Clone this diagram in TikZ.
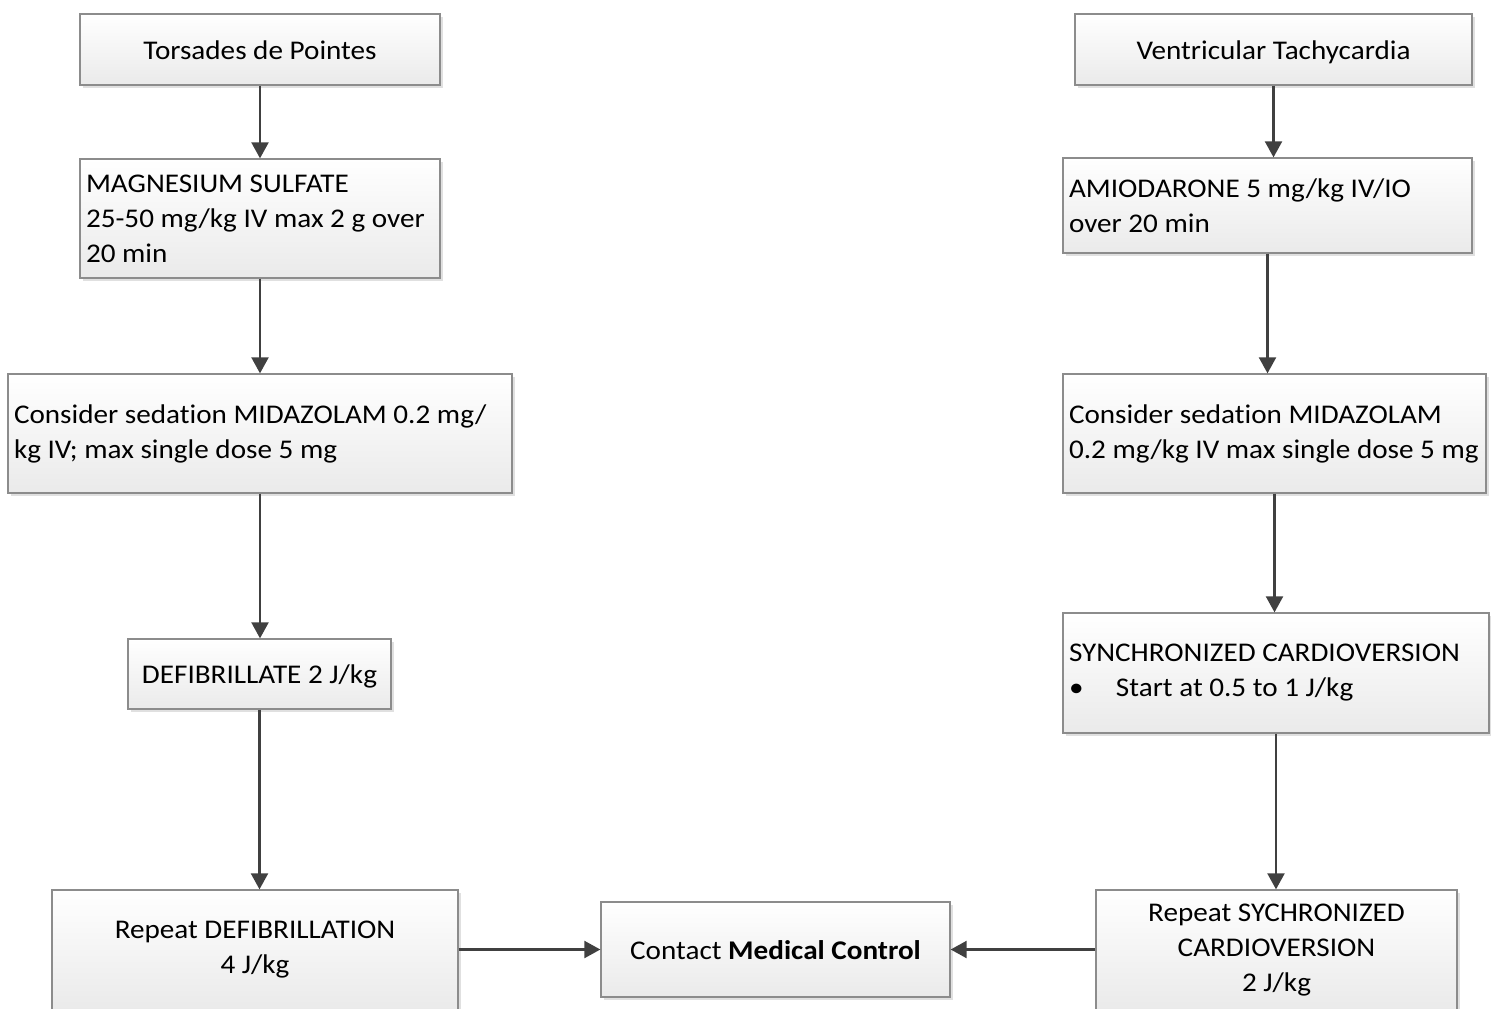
\documentclass[tikz,border=0pt]{standalone}
\usepackage{fontspec}
\setmainfont{Carlito}[FakeStretch=1.08, Ligatures=NoCommon]
\usetikzlibrary{arrows.meta,shadows}
\definecolor{boxline}{HTML}{8C8C8C}
\definecolor{boxbot}{HTML}{EAEAEA}
\definecolor{arrline}{HTML}{404040}
\begin{document}
\begin{tikzpicture}[x=1pt,y=-1pt,
  box/.style={draw=boxline, line width=1.3pt, top color=white, bottom color=boxbot,
    drop shadow={fill=black, opacity=0.12, shadow xshift=3pt, shadow yshift=-3pt},
    inner xsep=6pt, inner ysep=0pt, font=\fontsize{27}{35}\selectfont},
  midbox/.style={box, align=center},
  onebox/.style={box, text height=25pt, text depth=6pt},
  leftbox/.style={box, align=flush left},
  arr/.style={draw=arrline, line width=2.2pt, -{Triangle[length=16pt,width=17pt]}}]
\useasboundingbox (0,0) rectangle (1491,1009);
\node[onebox, minimum width=360pt, minimum height=71pt] (tdp) at (260,49.5) {Torsades de Pointes};
\node[leftbox, text width=348pt, minimum height=119pt] (mag) at (260,218.5)
  {MAGNESIUM SULFATE\\25-50 mg/kg IV max 2 g over\\20 min};
\node[leftbox, text width=492pt, minimum height=119pt] (sedl) at (260,433.5)
  {Consider sedation MIDAZOLAM 0.2 mg/\\kg IV; max single dose 5 mg};
\node[onebox, minimum width=263pt, minimum height=70pt] (defib) at (259.5,674) {DEFIBRILLATE 2 J/kg};
\node[midbox, minimum width=406pt, minimum height=120pt] (rdefib) at (255,950)
  {Repeat DEFIBRILLATION\\4 J/kg};
\node[onebox, minimum width=349pt, minimum height=95pt] (contact) at (775.5,949.5)
  {Contact \textbf{Medical Control}};
\node[onebox, minimum width=397pt, minimum height=71pt] (vt) at (1273.5,49.5) {Ventricular Tachycardia};
\node[leftbox, text width=397pt, minimum height=95pt] (amio) at (1267.5,205.5)
  {AMIODARONE 5 mg/kg IV/IO\\over 20 min};
\node[leftbox, text width=411pt, minimum height=119pt] (sedr) at (1274.5,433.5)
  {Consider sedation MIDAZOLAM\\0.2 mg/kg IV max single dose 5 mg};
\node[leftbox, text width=414pt, minimum height=120pt] (sync) at (1276,673)
  {SYNCHRONIZED CARDIOVERSION\\\makebox[47pt][l]{\textbullet}Start at 0.5 to 1 J/kg};
\node[midbox, minimum width=361pt, minimum height=120pt] (rsync) at (1276.5,950)
  {Repeat SYCHRONIZED\\CARDIOVERSION\\2 J/kg};
\draw[arr] (tdp.south) -- (tdp.south |- mag.north);
\draw[arr] (mag.south) -- (mag.south |- sedl.north);
\draw[arr] (sedl.south) -- (sedl.south |- defib.north);
\draw[arr] (defib.south) -- (defib.south |- rdefib.north);
\draw[arr] (rdefib.east |- contact.west) -- (contact.west);
\draw[arr] (vt.south) -- (vt.south |- amio.north);
\draw[arr] (amio.south) -- (amio.south |- sedr.north);
\draw[arr] (sedr.south) -- (sedr.south |- sync.north);
\draw[arr] (sync.south) -- (sync.south |- rsync.north);
\draw[arr] (rsync.west |- contact.east) -- (contact.east);
\end{tikzpicture}
\end{document}
